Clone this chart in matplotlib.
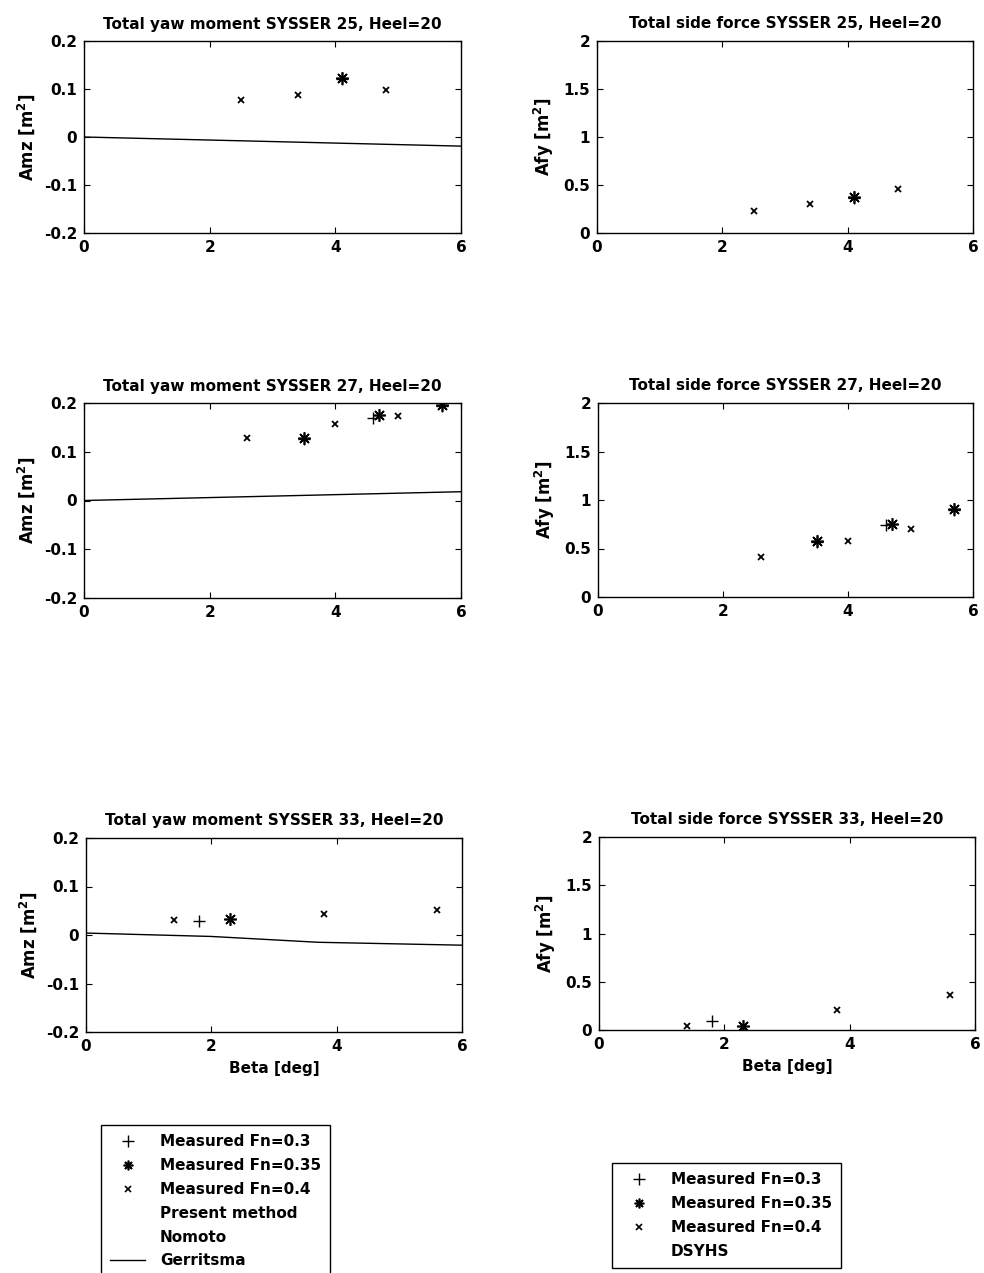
import matplotlib
matplotlib.use("Agg")
import matplotlib.pyplot as plt
from matplotlib.lines import Line2D

plt.rcParams['font.family'] = ['DejaVu Sans']
plt.rcParams['font.weight'] = 'bold'
plt.rcParams['mathtext.fontset'] = 'custom'
plt.rcParams['mathtext.rm'] = 'DejaVu Sans:bold'
plt.rcParams['mathtext.bf'] = 'DejaVu Sans:bold'
plt.rcParams['mathtext.it'] = 'DejaVu Sans:bold'

# ---------------- data ----------------
titles = [
    "Total yaw moment SYSSER 25, Heel=20", "Total side force SYSSER 25, Heel=20",
    "Total yaw moment SYSSER 27, Heel=20", "Total side force SYSSER 27, Heel=20",
    "Total yaw moment SYSSER 33, Heel=20", "Total side force SYSSER 33, Heel=20",
]

# SYSSER 25
s25_fn30_beta = [4.1]
s25_fn30_amz = [0.121]
s25_fn30_afy = [0.36]
s25_fn35_beta = [4.1]
s25_fn35_amz = [0.123]
s25_fn35_afy = [0.37]
s25_fn40_beta = [2.5, 3.4, 4.8]
s25_fn40_amz = [0.078, 0.087, 0.097]
s25_fn40_afy = [0.23, 0.30, 0.46]
s25_ger_beta = [0, 6]
s25_ger_amz = [0.0, -0.019]

# SYSSER 27
s27_fn30_beta = [3.5, 4.6, 5.7]
s27_fn30_amz = [0.127, 0.170, 0.193]
s27_fn30_afy = [0.57, 0.74, 0.90]
s27_fn35_beta = [3.5, 4.7, 5.7]
s27_fn35_amz = [0.129, 0.176, 0.196]
s27_fn35_afy = [0.58, 0.75, 0.91]
s27_fn40_beta = [2.6, 4.0, 5.0]
s27_fn40_amz = [0.128, 0.156, 0.173]
s27_fn40_afy = [0.41, 0.58, 0.70]
s27_ger_beta = [0, 6]
s27_ger_amz = [0.0, 0.018]

# SYSSER 33
s33_fn30_beta = [1.8]
s33_fn30_amz = [0.028]
s33_fn30_afy = [0.09]
s33_fn35_beta = [2.3]
s33_fn35_amz = [0.034]
s33_fn35_afy = [0.04]
s33_fn40_beta = [1.4, 3.8, 5.6]
s33_fn40_amz = [0.031, 0.044, 0.052]
s33_fn40_afy = [0.04, 0.21, 0.36]
s33_ger_beta = [0, 2.0, 3.7, 6]
s33_ger_amz = [0.004, -0.003, -0.015, -0.021]

amz_ticks = [-0.2, -0.1, 0, 0.1, 0.2]
amz_labels = ["-0.2", "-0.1", "0", "0.1", "0.2"]
afy_ticks = [0, 0.5, 1, 1.5, 2]
afy_labels = ["0", "0.5", "1", "1.5", "2"]
beta_ticks = [0, 2, 4, 6]
beta_labels = ["0", "2", "4", "6"]

legend_left = ["Measured Fn=0.3", "Measured Fn=0.35", "Measured Fn=0.4",
               "Present method", "Nomoto", "Gerritsma"]
legend_right = ["Measured Fn=0.3", "Measured Fn=0.35", "Measured Fn=0.4", "DSYHS"]

# ---------------- figure ----------------
W, H = 984, 1273
fig = plt.figure(figsize=(W / 100, H / 100), dpi=100)

def rect(l, t, r, b):
    return [l / W, 1 - b / H, (r - l) / W, (b - t) / H]

axes_px = [
    (84, 41, 461, 233), (597, 41, 973, 233),
    (84, 403, 461, 598), (598, 403, 973, 597),
    (86, 838, 462, 1032), (599, 837, 975, 1030),
]

STAR = (8, 2, 0)
FS = 11
TFS = 11
LFS = 12

groups = [
    (s25_fn30_beta, s25_fn30_amz, s25_fn30_afy, s25_fn35_beta, s25_fn35_amz, s25_fn35_afy,
     s25_fn40_beta, s25_fn40_amz, s25_fn40_afy, s25_ger_beta, s25_ger_amz),
    (s27_fn30_beta, s27_fn30_amz, s27_fn30_afy, s27_fn35_beta, s27_fn35_amz, s27_fn35_afy,
     s27_fn40_beta, s27_fn40_amz, s27_fn40_afy, s27_ger_beta, s27_ger_amz),
    (s33_fn30_beta, s33_fn30_amz, s33_fn30_afy, s33_fn35_beta, s33_fn35_amz, s33_fn35_afy,
     s33_fn40_beta, s33_fn40_amz, s33_fn40_afy, s33_ger_beta, s33_ger_amz),
]

def style(ax, yt, yl, ylab):
    ax.set_xlim(0, 6)
    ax.set_xticks(beta_ticks)
    ax.set_xticklabels(beta_labels, fontsize=FS, fontweight='bold')
    ax.set_ylim(yt[0], yt[-1])
    ax.set_yticks(yt)
    ax.set_yticklabels(yl, fontsize=FS, fontweight='bold')
    ax.tick_params(direction='in', length=4, width=0.8, top=True, right=True, pad=5)
    for s in ax.spines.values():
        s.set_linewidth(1.0)
    ax.set_ylabel(ylab, fontsize=LFS, fontweight='bold', labelpad=5)

for row, g in enumerate(groups):
    b30, a30, f30, b35, a35, f35, b40, a40, f40, bg, ag = g
    axL = fig.add_axes(rect(*axes_px[2 * row]))
    axR = fig.add_axes(rect(*axes_px[2 * row + 1]))
    # yaw moment
    axL.plot(b30, a30, ls='none', marker='+', ms=9, mew=1.0, color='black')
    axL.plot(b35, a35, ls='none', marker=STAR, ms=9, mew=1.2, color='black')
    axL.plot(b40, a40, ls='none', marker='x', ms=5, mew=1.3, color='black')
    axL.plot(bg, ag, ls='-', lw=1.0, color='black')
    style(axL, amz_ticks, amz_labels, r'Amz [m$^{\mathbf{2}}$]')
    axL.set_title(titles[2 * row], fontsize=TFS, fontweight='bold', pad=9)
    # side force
    axR.plot(b30, f30, ls='none', marker='+', ms=9, mew=1.0, color='black')
    axR.plot(b35, f35, ls='none', marker=STAR, ms=9, mew=1.2, color='black')
    axR.plot(b40, f40, ls='none', marker='x', ms=5, mew=1.3, color='black')
    style(axR, afy_ticks, afy_labels, r'Afy [m$^{\mathbf{2}}$]')
    axR.set_title(titles[2 * row + 1], fontsize=TFS, fontweight='bold', pad=9)
    if row == 2:
        axL.set_xlabel("Beta [deg]", fontsize=FS, fontweight='bold', labelpad=5)
        axR.set_xlabel("Beta [deg]", fontsize=FS, fontweight='bold', labelpad=5)

h_fn30 = Line2D([], [], ls='none', marker='+', ms=8, mew=1.0, color='black')
h_fn35 = Line2D([], [], ls='none', marker=STAR, ms=7, mew=1.2, color='black')
h_fn40 = Line2D([], [], ls='none', marker='x', ms=4, mew=1.2, color='black')
h_none = Line2D([], [], ls='-', color='none')
h_ger = Line2D([], [], ls='-', lw=1.0, color='black')

leg_kw = dict(loc='upper left', prop={'family': 'DejaVu Sans', 'weight': 'bold', 'size': FS},
              frameon=True, fancybox=False, edgecolor='black', framealpha=1,
              handlelength=2.3, labelspacing=0.58, borderpad=0.6, handletextpad=0.95,
              borderaxespad=0)

legL = fig.legend([h_fn30, h_fn35, h_fn40, h_none, h_none, h_ger], legend_left,
                  bbox_to_anchor=(101 / W, 1 - 1125 / H), **leg_kw)
legL.get_frame().set_linewidth(1.0)

legR = fig.legend([h_fn30, h_fn35, h_fn40, h_none], legend_right,
                  bbox_to_anchor=(612 / W, 1 - 1163 / H), **leg_kw)
legR.get_frame().set_linewidth(1.0)

fig.savefig("out.png", dpi=100)
